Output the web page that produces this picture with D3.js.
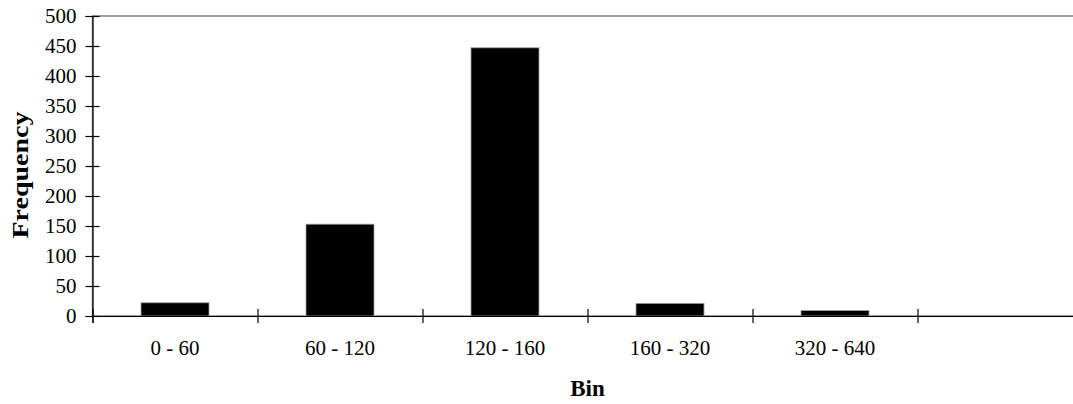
<!DOCTYPE html>
<html>
<head>
<meta charset="utf-8">
<script src="https://cdn.jsdelivr.net/npm/d3@7"></script>
<style>
  html, body { margin: 0; padding: 0; background: #fff; overflow: hidden; }
  text { font-family: "Liberation Serif", "Times New Roman", serif; fill: #000; }
</style>
</head>
<body>
<div id="chart"></div>
<script>
const categories = ["0 - 60", "60 - 120", "120 - 160", "160 - 320", "320 - 640", ""];
const frequencies = [22, 153, 447, 21, 9, null];
const yTicks = [0, 50, 100, 150, 200, 250, 300, 350, 400, 450, 500];

const width = 1073, height = 404;
const margin = { left: 92.5, top: 16 };
const plotW = 990, plotH = 300;

const svg = d3.select("#chart").append("svg")
    .attr("width", width)
    .attr("height", height);

const g = svg.append("g").attr("transform", `translate(${margin.left},${margin.top})`);

const x = d3.scaleBand()
    .domain(categories)
    .range([0, plotW])
    .paddingInner(0.588)
    .paddingOuter(0.294);

const edges = d3.scaleLinear().domain([0, categories.length]).range([0, plotW]);

const y = d3.scaleLinear().domain([0, 500]).range([plotH, 0]);

// plot area border (grey)
g.append("rect")
    .attr("x", 0).attr("y", 0)
    .attr("width", plotW).attr("height", plotH)
    .attr("fill", "none")
    .attr("stroke", "#808080")
    .attr("stroke-width", 1.5);

// bars
g.append("g").selectAll("rect")
    .data(categories.map((c, i) => ({ c, v: frequencies[i] })).filter(d => d.v != null))
    .enter()
    .append("rect")
    .attr("x", d => x(d.c))
    .attr("y", d => y(d.v))
    .attr("width", x.bandwidth())
    .attr("height", d => plotH - y(d.v))
    .attr("fill", "#000")
    .attr("stroke", "#999")
    .attr("stroke-width", 0.8);

// y axis
const yAxis = g.append("g")
    .call(d3.axisLeft(y).tickValues(yTicks).tickSize(7).tickPadding(9));
yAxis.select(".domain").attr("stroke", "#000").attr("stroke-width", 1.2);
yAxis.selectAll(".tick line").attr("x1", 7).attr("stroke-width", 1.2);
yAxis.selectAll(".tick text")
    .attr("font-size", 21)
    .attr("font-family", "Liberation Serif")
    .attr("dy", "0.32em");

// x axis: ticks on category edges
const xEdge = g.append("g")
    .attr("transform", `translate(0,${plotH})`)
    .call(d3.axisBottom(edges).ticks(categories.length).tickSize(7).tickFormat(""));
xEdge.select(".domain").attr("stroke", "#000").attr("stroke-width", 1.2);
xEdge.selectAll(".tick line").attr("y1", -7).attr("stroke-width", 1.2);

// x category labels
const xLab = g.append("g")
    .attr("transform", `translate(0,${plotH})`)
    .call(d3.axisBottom(x).tickSize(0).tickPadding(24));
xLab.select(".domain").remove();
xLab.selectAll(".tick text")
    .attr("font-size", 21)
    .attr("font-family", "Liberation Serif");

// axis titles
svg.append("text")
    .attr("x", margin.left + plotW / 2)
    .attr("y", 396)
    .attr("text-anchor", "middle")
    .attr("font-size", 23)
    .attr("font-weight", "bold")
    .text("Bin");

svg.append("text")
    .attr("transform", "translate(28,175) rotate(-90)")
    .attr("text-anchor", "middle")
    .attr("font-size", 23)
    .attr("font-weight", "bold")
    .attr("textLength", 127)
    .attr("lengthAdjust", "spacingAndGlyphs")
    .text("Frequency");
</script>
</body>
</html>
